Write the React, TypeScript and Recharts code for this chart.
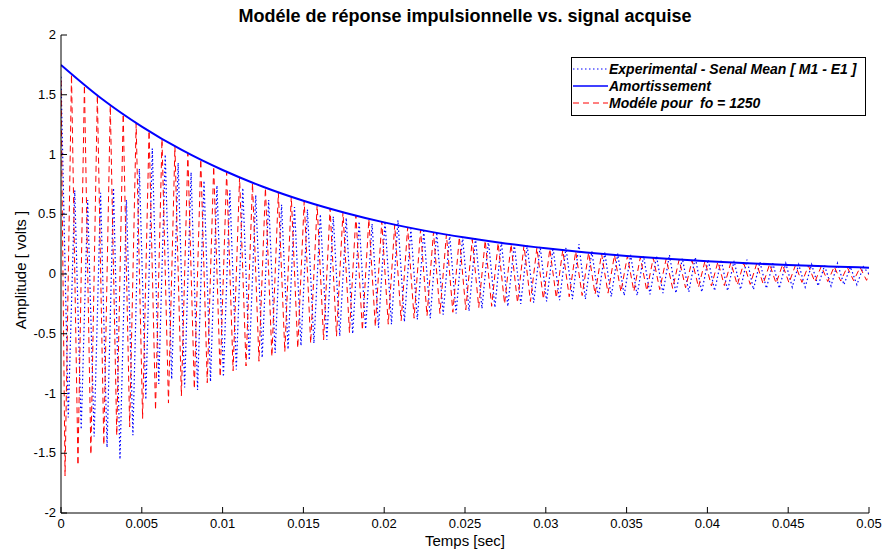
import React from "react";
import { LineChart, Line, XAxis, YAxis, Legend } from "recharts";

// ---- Data (times in milliseconds, amplitudes in volts) ----
const xTicks = [0, 0.005, 0.01, 0.015, 0.02, 0.025, 0.03, 0.035, 0.04, 0.045, 0.05];
const yTicks = [-2, -1.5, -1, -0.5, 0, 0.5, 1, 1.5, 2];

// Amortissement (envelope)
const envTimeMs = [0, 2.5, 5, 7.5, 10, 12.5, 15, 17.5, 20, 22.5, 25, 27.5, 30, 32.5, 35, 37.5, 40, 42.5, 45, 47.5, 50];
const envValues = [1.75, 1.469, 1.234, 1.036, 0.87, 0.73, 0.613, 0.515, 0.432, 0.363, 0.305, 0.256, 0.215, 0.18, 0.151, 0.127, 0.107, 0.09, 0.075, 0.063, 0.053];

// Modèle pour fo = 1250 (extrema of the model)
const modelTimeMs = [0,
  0.25, 0.65, 1.05, 1.45, 1.85, 2.25, 2.65, 3.05, 3.45, 3.85,
  4.25, 4.65, 5.05, 5.45, 5.85, 6.25, 6.65, 7.05, 7.45, 7.85,
  8.25, 8.65, 9.05, 9.45, 9.85, 10.25, 10.65, 11.05, 11.45, 11.85,
  12.25, 12.65, 13.05, 13.45, 13.85, 14.25, 14.65, 15.05, 15.45, 15.85,
  16.25, 16.65, 17.05, 17.45, 17.85, 18.25, 18.65, 19.05, 19.45, 19.85,
  20.25, 20.65, 21.05, 21.45, 21.85, 22.25, 22.65, 23.05, 23.45, 23.85,
  24.25, 24.65, 25.05, 25.45, 25.85, 26.25, 26.65, 27.05, 27.45, 27.85,
  28.25, 28.65, 29.05, 29.45, 29.85, 30.25, 30.65, 31.05, 31.45, 31.85,
  32.25, 32.65, 33.05, 33.45, 33.85, 34.25, 34.65, 35.05, 35.45, 35.85,
  36.25, 36.65, 37.05, 37.45, 37.85, 38.25, 38.65, 39.05, 39.45, 39.85,
  40.25, 40.65, 41.05, 41.45, 41.85, 42.25, 42.65, 43.05, 43.45, 43.85,
  44.25, 44.65, 45.05, 45.45, 45.85, 46.25, 46.65, 47.05, 47.45, 47.85,
  48.25, 48.65, 49.05, 49.45, 49.85,
  50];
const modelValues = [1.62,
  -1.69, 1.67, -1.6, 1.58, -1.51, 1.5, -1.43, 1.41, -1.35, 1.34,
  -1.28, 1.26, -1.21, 1.2, -1.14, 1.13, -1.08, 1.07, -1.02, 1.01,
  -0.96, 0.96, -0.91, 0.9, -0.86, 0.85, -0.81, 0.81, -0.77, 0.76,
  -0.73, 0.72, -0.69, 0.68, -0.65, 0.65, -0.62, 0.61, -0.58, 0.58,
  -0.55, 0.55, -0.52, 0.52, -0.49, 0.49, -0.47, 0.46, -0.44, 0.44,
  -0.42, 0.41, -0.39, 0.39, -0.37, 0.37, -0.35, 0.35, -0.33, 0.33,
  -0.32, 0.31, -0.3, 0.29, -0.28, 0.28, -0.27, 0.26, -0.25, 0.25,
  -0.24, 0.24, -0.23, 0.22, -0.21, 0.21, -0.2, 0.2, -0.19, 0.19,
  -0.18, 0.18, -0.17, 0.17, -0.16, 0.16, -0.15, 0.15, -0.145, 0.14,
  -0.14, 0.135, -0.13, 0.128, -0.12, 0.12, -0.115, 0.114, -0.11, 0.108,
  -0.1, 0.102, -0.097, 0.096, -0.092, 0.091, -0.087, 0.086, -0.083, 0.082,
  -0.078, 0.077, -0.074, 0.073, -0.07, 0.069, -0.066, 0.065, -0.063, 0.062,
  -0.059, 0.058, -0.056, 0.055, -0.053,
  0];

// Experimental - Senal Mean [ M1 - E1 ] (extrema of the acquired signal)
const expTimeMs = [0,
  0.45, 0.85, 1.25, 1.65, 2.05, 2.45, 2.85, 3.25, 3.65, 4.05,
  4.45, 4.85, 5.25, 5.65, 6.05, 6.45, 6.85, 7.25, 7.65, 8.05,
  8.45, 8.85, 9.25, 9.65, 10.05, 10.45, 10.85, 11.25, 11.65, 12.05,
  12.45, 12.85, 13.25, 13.65, 14.05, 14.45, 14.85, 15.25, 15.65, 16.05,
  16.45, 16.85, 17.25, 17.65, 18.05, 18.45, 18.85, 19.25, 19.65, 20.05,
  20.45, 20.85, 21.25, 21.65, 22.05, 22.45, 22.85, 23.25, 23.65, 24.05,
  24.45, 24.85, 25.25, 25.65, 26.05, 26.45, 26.85, 27.25, 27.65, 28.05,
  28.45, 28.85, 29.25, 29.65, 30.05, 30.45, 30.85, 31.25, 31.65, 32.05,
  32.45, 32.85, 33.25, 33.65, 34.05, 34.45, 34.85, 35.25, 35.65, 36.05,
  36.45, 36.85, 37.25, 37.65, 38.05, 38.45, 38.85, 39.25, 39.65, 40.05,
  40.45, 40.85, 41.25, 41.65, 42.05, 42.45, 42.85, 43.25, 43.65, 44.05,
  44.45, 44.85, 45.25, 45.65, 46.05, 46.45, 46.85, 47.25, 47.65, 48.05,
  48.45, 48.85, 49.25, 49.65,
  50];
const expValues = [1.65,
  -1.2, 0.7, -1.3, 0.62, -1.36, 0.68, -1.45, 0.72, -1.55, 0.62,
  -1.35, 0.88, -1.05, 1.05, -0.92, 1.0, -0.88, 0.93, -0.95, 0.85,
  -0.97, 0.78, -0.9, 0.74, -0.86, 0.7, -0.8, 0.72, -0.72, 0.66,
  -0.7, 0.62, -0.66, 0.58, -0.63, 0.56, -0.6, 0.54, -0.58, 0.5,
  -0.55, 0.48, -0.52, 0.47, -0.5, 0.44, -0.46, 0.42, -0.45, 0.44,
  -0.42, 0.45, -0.4, 0.38, -0.38, 0.36, -0.37, 0.35, -0.34, 0.33,
  -0.33, 0.31, -0.31, 0.3, -0.29, 0.28, -0.28, 0.27, -0.27, 0.25,
  -0.25, 0.24, -0.24, 0.23, -0.23, 0.22, -0.22, 0.22, -0.21, 0.25,
  -0.21, 0.19, -0.2, 0.18, -0.19, 0.17, -0.18, 0.16, -0.18, 0.15,
  -0.17, 0.15, -0.16, 0.16, -0.16, 0.13, -0.15, 0.14, -0.15, 0.12,
  -0.14, 0.12, -0.14, 0.11, -0.13, 0.12, -0.13, 0.1, -0.12, 0.09,
  -0.12, 0.09, -0.11, 0.08, -0.11, 0.08, -0.1, 0.07, -0.1, 0.09,
  -0.09, 0.06, -0.09, 0.06,
  0];

const legendLabels = ["Experimental - Senal Mean [ M1 - E1 ]", "Amortissement", "Modéle pour  fo = 1250"];

// ---- Build series tables ----
const toRows = (tMs: number[], v: number[]) => tMs.map((t, i) => ({ t: t / 1000, v: v[i] }));
const envData = toRows(envTimeMs, envValues);
const modelData = toRows(modelTimeMs, modelValues);
const expData = toRows(expTimeMs, expValues);

const FONT = "'Liberation Sans', Arial, Helvetica, sans-serif";
const BLUE = "#0000ff";
const RED = "#ff0000";

const W = 883;
const H = 551;
const M = { top: 35, right: 14, bottom: 0, left: 0 };
const PLOT_BOTTOM = 513;
const PLOT_LEFT = 61;
const PLOT_RIGHT = W - M.right;
const PLOT_TOP = M.top;
const TL = 6; // inward tick length

const BottomTick = (p: any) => {
  const { x, payload } = p;
  return (
    <g>
      <line x1={x} x2={x} y1={PLOT_BOTTOM} y2={PLOT_BOTTOM - TL} stroke="#000" strokeWidth={1} />
      <text x={x} y={PLOT_BOTTOM + 15} textAnchor="middle" fontFamily={FONT} fontSize={13} fill="#000">
        {String(payload.value)}
      </text>
    </g>
  );
};
const TopTick = (p: any) => {
  const { x } = p;
  return <line x1={x} x2={x} y1={PLOT_TOP} y2={PLOT_TOP + TL} stroke="#000" strokeWidth={1} />;
};
const LeftTick = (p: any) => {
  const { y, payload } = p;
  return (
    <g>
      <line x1={PLOT_LEFT} x2={PLOT_LEFT + TL} y1={y} y2={y} stroke="#000" strokeWidth={1} />
      <text x={PLOT_LEFT - 5} y={y + 4} textAnchor="end" fontFamily={FONT} fontSize={13} fill="#000">
        {String(payload.value)}
      </text>
    </g>
  );
};
const RightTick = (p: any) => {
  const { y } = p;
  return <line x1={PLOT_RIGHT} x2={PLOT_RIGHT - TL} y1={y} y2={y} stroke="#000" strokeWidth={1} />;
};

const legendStyles = [
  { color: BLUE, dash: "1.5 2.5", width: 1.2 },
  { color: BLUE, dash: undefined as string | undefined, width: 1.5 },
  { color: RED, dash: "6 4", width: 1 },
];

const renderLegend = () => (
  <div
    style={{
      width: 295,
      height: 59,
      border: "1px solid #000",
      background: "#fff",
      boxSizing: "border-box",
      paddingTop: 2,
      fontFamily: FONT,
    }}
  >
    {legendLabels.map((lab, i) => (
      <div key={lab} style={{ display: "flex", alignItems: "center", height: 17 }}>
        <svg width={37} height={10} style={{ flex: "none" }}>
          <line
            x1={1}
            x2={36}
            y1={5}
            y2={5}
            stroke={legendStyles[i].color}
            strokeWidth={legendStyles[i].width}
            strokeDasharray={legendStyles[i].dash}
          />
        </svg>
        <span style={{ fontSize: 14, fontWeight: "bold", fontStyle: "italic", color: "#000", whiteSpace: "pre", marginLeft: 0 }}>
          {lab}
        </span>
      </div>
    ))}
  </div>
);

export default function App() {
  return (
    <div style={{ position: "absolute", left: 0, top: 0, width: W, height: H, background: "#fff" }}>
      <div
        style={{
          position: "absolute",
          left: PLOT_LEFT,
          width: PLOT_RIGHT - PLOT_LEFT,
          top: 6,
          textAlign: "center",
          fontFamily: FONT,
          fontWeight: "bold",
          fontSize: 18,
          color: "#000",
          zIndex: 2,
        }}
      >
        Modéle de réponse impulsionnelle vs. signal acquise
      </div>
      <LineChart width={W} height={H} margin={M}>
        <XAxis
          dataKey="t"
          type="number"
          domain={[0, 0.05]}
          ticks={xTicks}
          allowDataOverflow
          height={38}
          stroke="#000"
          tickLine={false}
          tick={BottomTick}
          interval={0}
          label={{
            content: () => (
              <text x={465} y={546} textAnchor="middle" fontFamily={FONT} fontSize={15} fill="#000">
                Temps [sec]
              </text>
            ),
          }}
        />
        <XAxis
          xAxisId="top"
          orientation="top"
          dataKey="t"
          type="number"
          domain={[0, 0.05]}
          ticks={xTicks}
          height={0}
          stroke="#000"
          tickLine={false}
          tick={TopTick}
          interval={0}
        />
        <YAxis
          type="number"
          domain={[-2, 2]}
          ticks={yTicks}
          allowDataOverflow
          width={61}
          stroke="#000"
          tickLine={false}
          tick={LeftTick}
          interval={0}
          label={{
            content: () => (
              <text
                x={20}
                y={270}
                transform="rotate(-90 20 270)"
                textAnchor="middle"
                dominantBaseline="central"
                fontFamily={FONT}
                fontSize={15}
                fill="#000"
              >
                Amplitude [ volts ]
              </text>
            ),
          }}
        />
        <YAxis
          yAxisId="right"
          orientation="right"
          type="number"
          domain={[-2, 2]}
          ticks={yTicks}
          width={0}
          stroke="#000"
          tickLine={false}
          tick={RightTick}
          interval={0}
        />
        <Line
          data={expData}
          dataKey="v"
          name={legendLabels[0]}
          type="linear"
          stroke={BLUE}
          strokeWidth={1.2}
          strokeDasharray="1.5 2.5"
          dot={false}
          isAnimationActive={false}
        />
        <Line
          data={modelData}
          dataKey="v"
          name={legendLabels[2]}
          type="linear"
          stroke={RED}
          strokeWidth={1}
          strokeDasharray="6 4"
          dot={false}
          isAnimationActive={false}
        />
        <Line
          data={envData}
          dataKey="v"
          name={legendLabels[1]}
          type="monotone"
          stroke={BLUE}
          strokeWidth={2}
          dot={false}
          isAnimationActive={false}
        />
        <Legend
          layout="horizontal"
          verticalAlign="middle"
          align="center"
          content={renderLegend}
          wrapperStyle={{ position: "absolute", left: 571, top: 57, width: 295, height: 59 }}
        />
      </LineChart>
    </div>
  );
}
